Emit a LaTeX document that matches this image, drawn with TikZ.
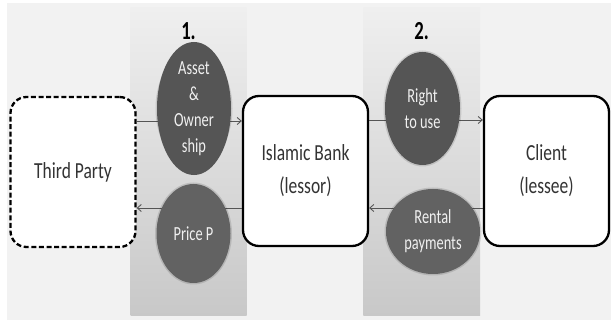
\documentclass[tikz,border=0pt]{standalone}
\usepackage{fontspec}
\usepackage{graphicx}
\setmainfont{Carlito}
\usetikzlibrary{shapes.geometric,arrows.meta}
\definecolor{pagebg}{HTML}{F2F2F2}
\definecolor{bandtop}{HTML}{EFEFEF}
\definecolor{bandbot}{HTML}{C8C8C8}
\definecolor{disc}{HTML}{555555}
\definecolor{disclight}{HTML}{626262}
\definecolor{boxtext}{HTML}{333333}
\definecolor{flow}{HTML}{555555}
% narrow lettering of the labels
\newcommand\nbox[1]{\scalebox{0.76}[1]{#1}}
\newcommand\ndisc[1]{\scalebox{0.72}[1]{#1}}
\tikzset{
  party/.style={draw=black, line width=2.3pt, fill=white, rounded corners=16pt,
    minimum width=125pt, minimum height=150pt, inner sep=0pt, align=center,
    text=boxtext, font=\fontsize{23}{33}\selectfont},
  dashedparty/.style={party, dash pattern=on 5pt off 2.6pt},
  flowdisc/.style={ellipse, fill=#1, draw=none, inner sep=0pt, align=center,
    text=white!94!black, font=\fontsize{20}{26}\selectfont},
  halo/.style={ellipse, fill=black, fill opacity=0.12, draw=none, inner sep=0pt},
  band/.style={top color=bandtop, bottom color=bandbot, draw=none},
  flowline/.style={draw=flow, line width=0.9pt, -{Straight Barb[length=4pt,width=7pt]}},
  stepnum/.style={font=\bfseries\fontsize{26}{26}\selectfont, text=black}
}
\begin{document}
\begin{tikzpicture}[x=1pt, y=-1pt]
  \useasboundingbox (0,0) rectangle (611,320);
  % page background
  \fill[white] (0,0) rectangle (611,320);
  \fill[pagebg] (7,3) rectangle (611,320);
  % the two step bands
  \shade[band] (130.5,8) rectangle (246.7,316);
  \shade[band] (363.3,8) rectangle (480,316);
  \node[stepnum] (n1) at (188.5,31) {\ndisc{1.}};
  \node[stepnum] (n2) at (421.5,31) {\ndisc{2.}};

  % parties
  \node[dashedparty] (tp) at (73,172) {\nbox{Third Party}};
  \node[party] (bank) at (305.5,171) {\nbox{Islamic Bank}\\\nbox{(lessor)}};
  \node[party] (client) at (546.5,171) {\nbox{Client}\\\nbox{(lessee)}};

  % flows (drawn beneath the discs)
  \draw[flowline] ([yshift=51pt]tp.east) -- ([yshift=50pt]bank.west);
  \draw[flowline] ([yshift=-37pt]bank.west) -- ([yshift=-36pt]tp.east);
  \draw[flowline] ([yshift=51pt]bank.east) -- ([yshift=51pt]client.west);
  \draw[flowline] ([yshift=-37pt]client.west) -- ([yshift=-37pt]bank.east);

  % soft edges of the discs
  \foreach \cx/\cy/\w/\h in {194/108.5/74/114, 193.5/233.5/74/99, 422.5/108.5/75/113, 433/231.5/94/85}{
    \node[halo, minimum width=\w pt+3pt, minimum height=\h pt+3pt] at (\cx,\cy) {};
  }
  % what is exchanged
  \node[flowdisc=disc, minimum width=74pt, minimum height=114pt] (asset) at (194,108.5)
    {\ndisc{Asset}\\\ndisc{\&}\\\ndisc{Owner}\\\ndisc{ship}};
  \node[flowdisc=disclight, minimum width=74pt, minimum height=99pt] (price) at (193.5,233.5)
    {\ndisc{Price P}};
  \node[flowdisc=disc, minimum width=75pt, minimum height=113pt] (right) at (422.5,108.5)
    {\ndisc{Right}\\\ndisc{to use}};
  \node[flowdisc=disclight, minimum width=94pt, minimum height=85pt] (rent) at (433,231.5)
    {\ndisc{Rental}\\\ndisc{payments}};
\end{tikzpicture}
\end{document}
